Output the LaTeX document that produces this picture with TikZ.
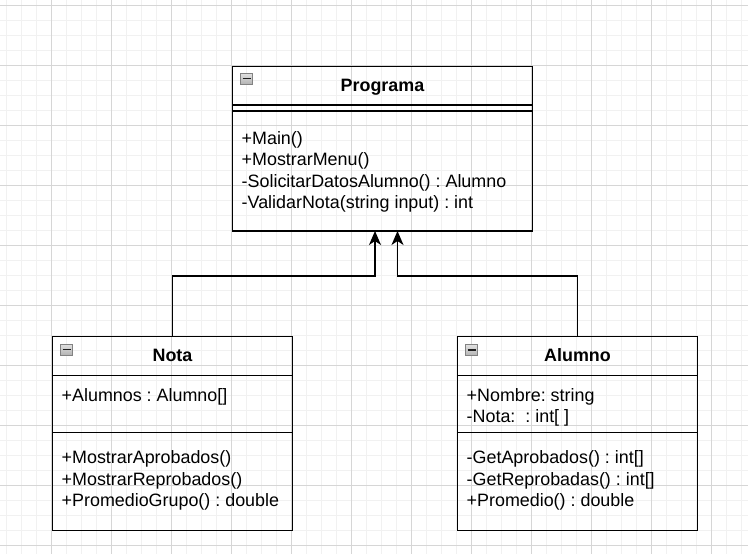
\documentclass[tikz,border=0pt]{standalone}
\usepackage{fontspec}
\setmainfont{Liberation Sans}
\usetikzlibrary{arrows.meta}
\frenchspacing
\definecolor{gridminor}{RGB}{241,241,241}
\definecolor{gridmajor}{RGB}{214,214,214}
\definecolor{iconborder}{RGB}{130,130,130}
\definecolor{icontop}{RGB}{225,225,225}
\definecolor{iconbottom}{RGB}{180,180,180}
\definecolor{iconminus}{RGB}{30,30,30}
\begin{document}
\begin{tikzpicture}[x=1pt,y=-1pt,
  cls/.style={draw=black, line width=1.5pt, inner sep=0pt, outer sep=0pt, anchor=north west},
  divline/.style={draw=black, line width=1.5pt},
  txt/.style={anchor=base west, inner sep=0pt, font=\fontsize{17.9}{21}\selectfont},
  ttl/.style={anchor=base, inner sep=0pt, font=\fontsize{17.9}{21}\selectfont\bfseries},
  icon/.style={draw=iconborder, line width=1pt, top color=icontop, bottom color=iconbottom,
    minimum width=12pt, minimum height=11pt, inner sep=0pt, outer sep=0pt,
    path picture={\draw[iconminus, line width=1.4pt]
      ([xshift=-4pt]path picture bounding box.center) -- ([xshift=4pt]path picture bounding box.center);}},
  inh/.style={draw=black, line width=1.5pt, -{Stealth[length=14pt, width=12pt, inset=4pt]}}
]
\useasboundingbox (0,0) rectangle (748,554);
\fill[white] (0,0) rectangle (748,554);
% grid
\foreach \i in {0,...,49} \draw[gridminor, line width=1pt] (6+15*\i,0) -- (6+15*\i,554);
\foreach \i in {0,...,36} \draw[gridminor, line width=1pt] (0,5+15*\i) -- (748,5+15*\i);
\foreach \i in {0,...,11} \draw[gridmajor, line width=1pt] (51+60*\i,0) -- (51+60*\i,554);
\foreach \i in {0,...,9} \draw[gridmajor, line width=1pt] (0,5+60*\i) -- (748,5+60*\i);

% Programa
\node[cls, minimum width=300pt, minimum height=164.5pt] (prog) at (232.5,66.5) {};
\draw[divline] (prog.west |- 0,105) -- (prog.east |- 0,105);
\draw[divline] (prog.west |- 0,111) -- (prog.east |- 0,111);
\node[icon] (progicon) at (246.5,78.5) {};
\node[ttl] (progtitle) at (382.5,91.5) {Programa};
\node[txt] (pm1) at (241.5,144.3) {+Main()};
\node[txt] (pm2) at (241.5,165.8) {+MostrarMenu()};
\node[txt] (pm3) at (241.5,187.3) {-SolicitarDatosAlumno() : Alumno};
\node[txt] (pm4) at (241.5,208.8) {-ValidarNota(string input) : int};

% Nota
\node[cls, minimum width=240pt, minimum height=194pt] (nota) at (52.5,336.5) {};
\draw[divline] (nota.west |- 0,375.7) -- (nota.east |- 0,375.7);
\draw[divline] (nota.west |- 0,432.3) -- (nota.east |- 0,432.3);
\node[icon] (notaicon) at (66.5,349.5) {};
\node[ttl] (notatitle) at (172.5,361.7) {Nota};
\node[txt] (na1) at (61.5,401) {+Alumnos : Alumno[]};
\node[txt] (nm1) at (61.5,463.7) {+MostrarAprobados()};
\node[txt] (nm2) at (61.5,485.2) {+MostrarReprobados()};
\node[txt] (nm3) at (61.5,506.7) {+PromedioGrupo() : double};

% Alumno
\node[cls, minimum width=240pt, minimum height=194pt] (alum) at (457.5,336.5) {};
\draw[divline] (alum.west |- 0,375.7) -- (alum.east |- 0,375.7);
\draw[divline] (alum.west |- 0,432.3) -- (alum.east |- 0,432.3);
\node[icon] (alumicon) at (471.5,350) {};
\node[ttl] (alumtitle) at (577.5,361.7) {Alumno};
\node[txt] (aa1) at (466.5,401) {+Nombre: string};
\node[txt] (aa2) at (466.5,422.5) {-Nota:\ \ : int[ ]};
\node[txt] (am1) at (466.5,463.7) {-GetAprobados() : int[]};
\node[txt] (am2) at (466.5,485.2) {-GetReprobadas() : int[]};
\node[txt] (am3) at (466.5,506.7) {+Promedio() : double};

% inheritance connectors
\draw[inh] (nota.north) -- ++(0,-60.5) -| ([xshift=-7.5pt]prog.south);
\draw[inh] (alum.north) -- ++(0,-60.5) -| ([xshift=15pt]prog.south);
\end{tikzpicture}
\end{document}
